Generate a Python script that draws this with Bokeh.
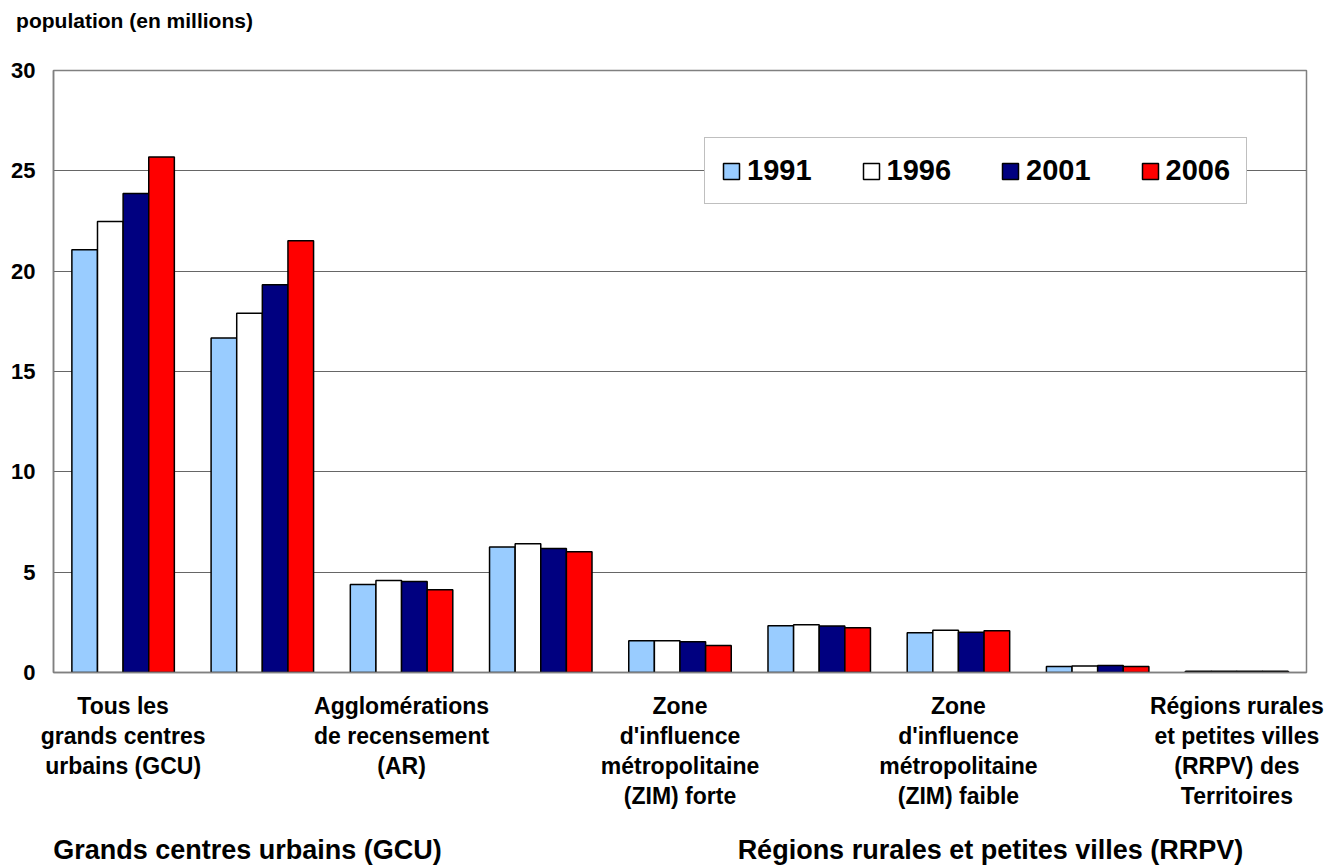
from bokeh.plotting import figure
from bokeh.models import (ColumnDataSource, Range1d, Legend, LegendItem,
                          FixedTicker, LinearAxis)
from bokeh.transform import dodge
from bokeh.embed import file_html
from bokeh.resources import INLINE

# ---- data ----
category_ids = ["GCU", "RMR", "AR", "RRPV", "ZIM forte", "ZIM modérée",
                "ZIM faible", "Aucune ZIM", "Territoires"]
category_labels = [
    "Tous les\ngrands centres\nurbains (GCU)",
    "",
    "Agglomérations\nde recensement\n(AR)",
    "",
    "Zone\nd'influence\nmétropolitaine\n(ZIM) forte",
    "",
    "Zone\nd'influence\nmétropolitaine\n(ZIM) faible",
    "",
    "Régions rurales\net petites villes\n(RRPV) des\nTerritoires",
]
years = ["1991", "1996", "2001", "2006"]
pop_1991 = [21.07, 16.67, 4.39, 6.25, 1.58, 2.33, 1.98, 0.30, 0.06]
pop_1996 = [22.48, 17.90, 4.58, 6.42, 1.58, 2.38, 2.10, 0.33, 0.06]
pop_2001 = [23.87, 19.32, 4.54, 6.18, 1.53, 2.32, 2.00, 0.35, 0.06]
pop_2006 = [25.69, 21.52, 4.12, 6.02, 1.35, 2.23, 2.08, 0.30, 0.06]
colors = ["#99CCFF", "#FFFFFF", "#000080", "#FF0000"]
y_ticks = [0, 5, 10, 15, 20, 25, 30]
y_title = "population (en millions)"
group_labels = ["Grands centres urbains (GCU)", "Régions rurales et petites villes (RRPV)"]

FONT = "Liberation Sans"
n_cat = len(category_ids)

# category slot i is centred at i + 0.5 on a 0..n_cat axis
src = ColumnDataSource(dict(cat=category_ids, pos=[i + 0.5 for i in range(n_cat)],
                            y1991=pop_1991, y1996=pop_1996,
                            y2001=pop_2001, y2006=pop_2006))

p = figure(x_range=Range1d(0, n_cat), y_range=Range1d(0, 30), x_axis_location=None,
           width=1339, height=867, output_backend="svg", toolbar_location=None,
           min_border_left=53, min_border_right=33, min_border_top=70,
           min_border_bottom=195)
p.background_fill_color = "white"
p.border_fill_color = "white"
p.outline_line_color = "#808080"
p.outline_line_width = 1.5

bar_w = 0.184
offsets = [-1.5 * bar_w, -0.5 * bar_w, 0.5 * bar_w, 1.5 * bar_w]
fields = ["y1991", "y1996", "y2001", "y2006"]
items = []
for yr, f, c, off in zip(years, fields, colors, offsets):
    r = p.vbar(x=dodge("pos", off), top=f, width=bar_w, source=src,
               fill_color=c, line_color="black", line_width=1.5)
    items.append(LegendItem(label=yr, renderers=[r]))

legend = Legend(items=items, orientation="horizontal", location=(651, 468),
                glyph_width=20, glyph_height=20, label_standoff=6, spacing=49,
                padding=16, margin=0,
                label_text_font=FONT, label_text_font_style="bold",
                label_text_font_size="29px", label_text_color="black",
                border_line_color="#808080", border_line_width=1.5,
                background_fill_color="white", background_fill_alpha=1.0)
p.add_layout(legend)

# y axis
p.yaxis.ticker = FixedTicker(ticks=y_ticks)
p.yaxis.major_tick_in = 0
p.yaxis.major_tick_out = 0
p.yaxis.minor_tick_line_color = None
p.yaxis.axis_line_color = "#808080"
p.yaxis.axis_line_width = 1.5
p.yaxis.major_label_standoff = 18
p.yaxis.major_label_text_font = FONT
p.yaxis.major_label_text_font_style = "bold"
p.yaxis.major_label_text_font_size = "22px"
p.yaxis.major_label_text_color = "black"

# caption of the value axis, written above the plot at top-left
cap_tick = [0.582]
taxis = LinearAxis(ticker=FixedTicker(ticks=cap_tick),
                   major_label_overrides={cap_tick[0]: y_title},
                   major_tick_line_color=None, minor_tick_line_color=None,
                   axis_line_color=None, major_label_standoff=33,
                   major_label_text_font=FONT, major_label_text_font_style="bold",
                   major_label_text_font_size="21px", major_label_text_color="black")
p.add_layout(taxis, "above")

# x axis: category labels (every other category labelled)
label_ticks = [i + 0.5 for i, lab in enumerate(category_labels) if lab]
xaxis = LinearAxis(ticker=FixedTicker(ticks=label_ticks),
                   major_label_overrides={i + 0.5: lab for i, lab in enumerate(category_labels) if lab},
                   major_tick_line_color=None, minor_tick_line_color=None,
                   axis_line_color="#808080", axis_line_width=1.5,
                   major_label_standoff=14,
                   major_label_text_font=FONT, major_label_text_font_style="bold",
                   major_label_text_font_size="23px", major_label_text_color="black",
                   major_label_text_line_height=1.16)
p.add_layout(xaxis, "below")

# second x axis: group captions
group_ticks = [1.393, 6.73]
gaxis = LinearAxis(ticker=FixedTicker(ticks=group_ticks),
                   major_label_overrides={t: lab for t, lab in zip(group_ticks, group_labels)},
                   major_tick_line_color=None, minor_tick_line_color=None,
                   axis_line_color=None, major_label_standoff=17,
                   major_label_text_font=FONT, major_label_text_font_style="bold",
                   major_label_text_font_size="27px", major_label_text_color="black")
p.add_layout(gaxis, "below")

p.xgrid.visible = False
p.ygrid.grid_line_color = "#666666"
p.ygrid.grid_line_width = 1

open("out.html", "w").write(file_html(p, INLINE))
